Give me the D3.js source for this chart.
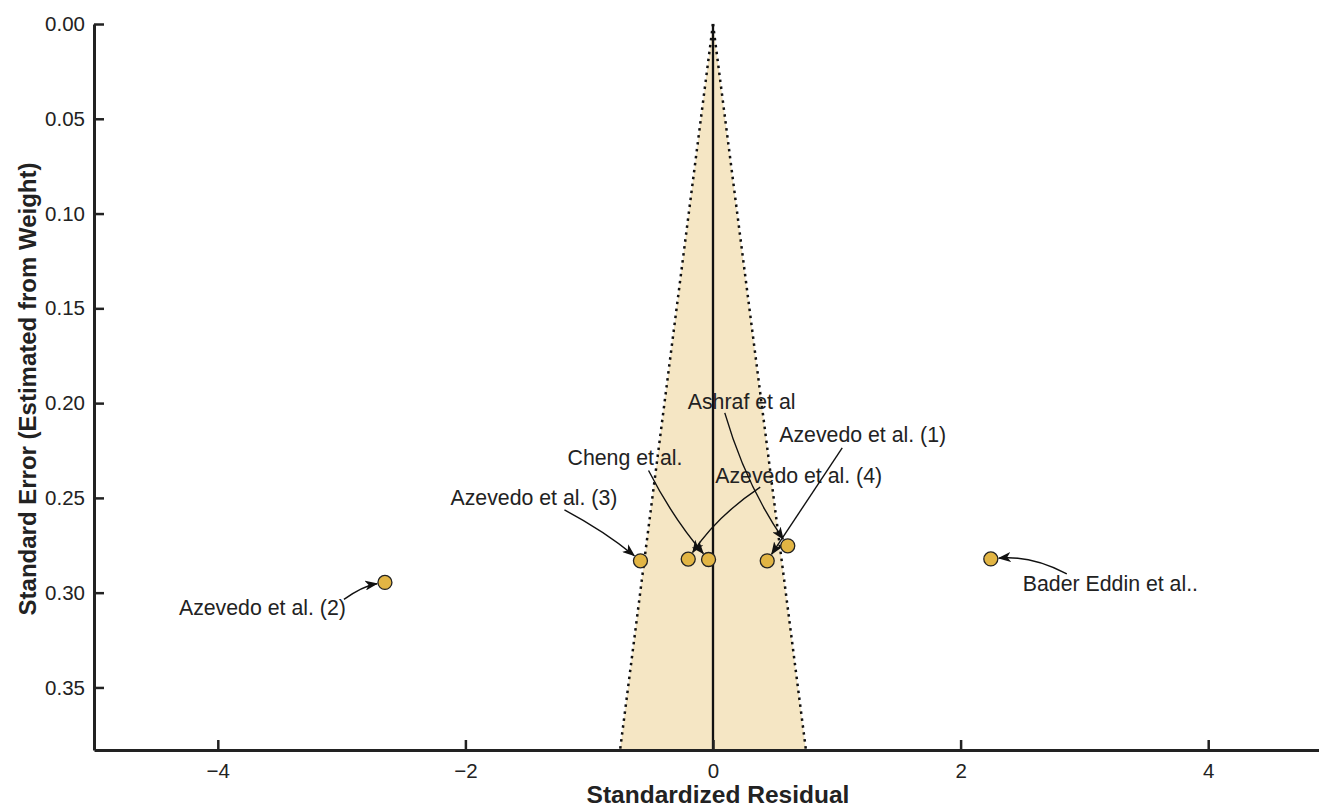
<!DOCTYPE html>
<html>
<head>
<meta charset="utf-8">
<script src="https://cdn.jsdelivr.net/npm/d3@7"></script>
<style>
  body { margin: 0; background: #fff; }
  svg text { font-family: "Liberation Sans", Arial, Helvetica, sans-serif; fill: #222; }
</style>
</head>
<body>
<div id="viz-container"></div>
<script>
// study values
let studies   = ["Azevedo et al. (2)", "Azevedo et al. (3)", "Azevedo et al. (4)", "Cheng et al.", "Azevedo et al. (1)", "Ashraf et al", "Bader Eddin et al.."];
let residuals = [-2.65, -0.586, -0.200, -0.036, 0.438, 0.604, 2.244];
let stdErrors = [0.2946, 0.2832, 0.2823, 0.2825, 0.2832, 0.2753, 0.2822];

let xTicks = [-4, -2, 0, 2, 4];
let yTicks = [0, 0.05, 0.10, 0.15, 0.20, 0.25, 0.30, 0.35];
let seMax = 0.383;

// label placement, in pixels relative to the point (text start, arrow start, curve bend)
let labelDx = [-206, -190, 27, -141, 12, -100, 32];
let labelDy = [33, -56, -76, -94, -119, -137, 32];
let arrowDx = [-41, -76, 72, -60, 75, -63, 76];
let arrowDy = [17, -51, -72, -89, -113, -133, 15];
let bends   = [-0.12, -0.05, 0.1, 0.06, 0, 0.08, 0.15];

let W = 1319, H = 807;

let viz = d3.select("#viz-container")
  .append("svg")
    .attr("width", W)
    .attr("height", H)
  ;

let x = d3.scaleLinear().domain([-5, 5]).range([94, 1332]);
let y = d3.scaleLinear().domain([0, seMax]).range([24, 750]);

// arrow marker
viz.append("defs").append("marker")
    .attr("id", "head")
    .attr("markerUnits", "userSpaceOnUse")
    .attr("viewBox", "0 0 13 10")
    .attr("refX", 12)
    .attr("refY", 5)
    .attr("markerWidth", 13)
    .attr("markerHeight", 10)
    .attr("orient", "auto")
  .append("path")
    .attr("d", "M0,0 L13,5 L0,10 L3.5,5 Z")
    .attr("fill", "#111");

// funnel (95% pseudo confidence region)
let funnel = [[0, 0], [-1.96 * seMax, seMax], [1.96 * seMax, seMax]];
viz.append("polygon")
    .attr("points", funnel.map(p => x(p[0]) + "," + y(p[1])).join(" "))
    .attr("fill", "#f5e6c4");

[-1, 1].forEach(function(s){
  viz.append("line")
      .attr("x1", x(0)).attr("y1", y(0))
      .attr("x2", x(s * 1.96 * seMax)).attr("y2", y(seMax))
      .attr("stroke", "#111")
      .attr("stroke-width", 2.5)
      .attr("stroke-dasharray", "2.5,4.5");
});

viz.append("line")
    .attr("x1", x(0)).attr("y1", y(0))
    .attr("x2", x(0)).attr("y2", y(seMax))
    .attr("stroke", "#111")
    .attr("stroke-width", 2.3);

// axes
let xAxis = d3.axisBottom(x).tickValues(xTicks).tickSizeInner(-10).tickSizeOuter(0).tickPadding(13);
let yAxis = d3.axisLeft(y).tickValues(yTicks).tickFormat(d3.format(".2f")).tickSizeInner(-10).tickSizeOuter(0).tickPadding(9);

let gx = viz.append("g").attr("transform", "translate(0," + y(seMax) + ")").call(xAxis);
let gy = viz.append("g").attr("transform", "translate(" + x(-5) + ",0)").call(yAxis);

[gx, gy].forEach(function(g){
  g.select(".domain").attr("stroke", "#222").attr("stroke-width", 3);
  g.selectAll(".tick line").attr("stroke", "#222").attr("stroke-width", 2.5);
  g.selectAll(".tick text").style("font-size", "20.5px").attr("fill", "#222");
});

viz.append("text")
    .attr("x", 718)
    .attr("y", 803)
    .attr("text-anchor", "middle")
    .style("font-size", "24.5px")
    .style("font-weight", "bold")
    .text("Standardized Residual");

viz.append("text")
    .attr("transform", "translate(36," + 389 + ") rotate(-90)")
    .attr("text-anchor", "middle")
    .style("font-size", "24px")
    .style("font-weight", "bold")
    .text("Standard Error (Estimated from Weight)");

// annotations
let r = 7;
studies.forEach(function(name, i){
  let px = x(residuals[i]), py = y(stdErrors[i]);
  let sx = px + arrowDx[i], sy = py + arrowDy[i];
  let dx = px - sx, dy = py - sy;
  let len = Math.hypot(dx, dy);
  let cx = (sx + px) / 2 - dy / len * bends[i] * len;
  let cy = (sy + py) / 2 + dx / len * bends[i] * len;
  let tx = px - cx, ty = py - cy;
  let tl = Math.hypot(tx, ty);
  let ex = px - tx / tl * (r + 1), ey = py - ty / tl * (r + 1);

  viz.append("path")
      .attr("d", "M" + sx + "," + sy + " Q" + cx + "," + cy + " " + ex + "," + ey)
      .attr("fill", "none")
      .attr("stroke", "#111")
      .attr("stroke-width", 1.4)
      .attr("marker-end", "url(#head)");

  viz.append("text")
      .attr("x", px + labelDx[i])
      .attr("y", py + labelDy[i])
      .style("font-size", "21.3px")
      .text(name);
});

viz.selectAll("circle.study").data(residuals).enter()
  .append("circle")
    .attr("class", "study")
    .attr("cx", d => x(d))
    .attr("cy", (d, i) => y(stdErrors[i]))
    .attr("r", r)
    .attr("fill", "#e2b544")
    .attr("stroke", "#222")
    .attr("stroke-width", 1.3)
  ;
</script>
</body>
</html>
